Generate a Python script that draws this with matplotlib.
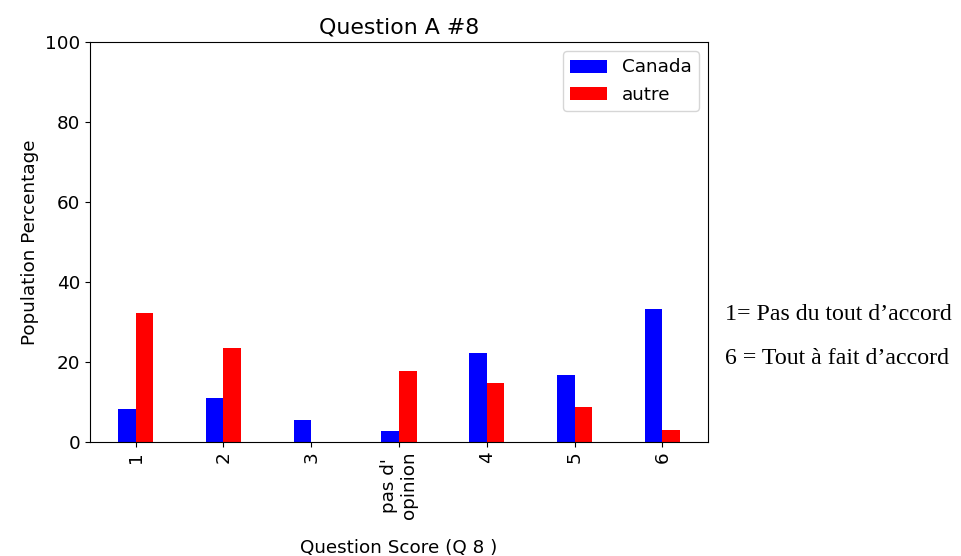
import numpy as np
import pandas as pd
import matplotlib.pyplot as plt

categories = ["1", "2", "3", "pas d'\nopinion", "4", "5", "6"]
canada = [8.33, 11.11, 5.56, 2.78, 22.22, 16.67, 33.33]
autre = [32.35, 23.53, 0.0, 17.65, 14.71, 8.82, 2.94]


def main():
    plt.rcParams["font.size"] = 13.2
    df = pd.DataFrame({"Canada": canada, "autre": autre}, index=categories)

    fig = plt.figure(figsize=(9.62, 5.56), dpi=100)
    ax = fig.add_axes([90 / 962, 1 - 442 / 556, 618 / 962, 400 / 556])

    df.plot(kind="bar", ax=ax, color=["blue", "red"], width=0.4)
    ax.set_xlim(-0.52, 6.52)
    ax.set_ylim(0, 100)
    ax.set_title("Question A #8", fontsize=15.8)
    ax.set_xlabel("Question Score (Q 8 )", labelpad=14)
    ax.set_ylabel("Population Percentage")
    ax.tick_params(axis="x", rotation=90)
    ax.legend(loc="upper right")

    fig.text(725 / 962, 1 - 315 / 556, "1= Pas du tout d\u2019accord",
             family="Liberation Serif", fontsize=17.2, va="center")
    fig.text(725 / 962, 1 - 359 / 556, "6 = Tout \u00e0 fait d\u2019accord",
             family="Liberation Serif", fontsize=17.2, va="center")

    fig.savefig("out.png", dpi=100)


if __name__ == "__main__":
    main()
